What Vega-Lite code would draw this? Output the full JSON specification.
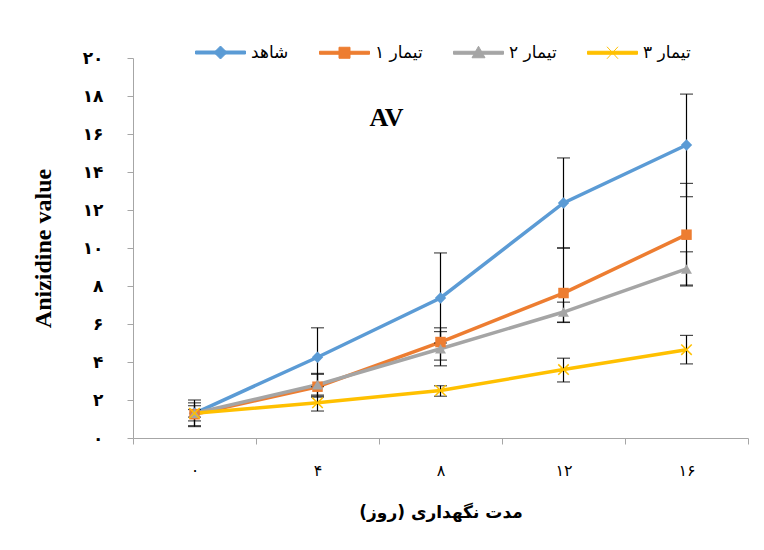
{
  "$schema": "https://vega.github.io/schema/vega-lite/v6.json",
  "width": 615,
  "height": 380,
  "autosize": "none",
  "padding": {"left": 133, "top": 58, "right": 16, "bottom": 112},
  "background": "white",
  "config": {
    "view": {"stroke": null},
    "axisY": {"labelOverlap": false},
    "locale": {
      "number": {
        "decimal": ".",
        "thousands": ",",
        "grouping": [3],
        "currency": ["", ""],
        "numerals": ["۰", "۱", "۲", "۳", "۴", "۵", "۶", "۷", "۸", "۹"]
      }
    }
  },
  "title": {
    "text": "AV",
    "font": "Liberation Serif",
    "fontSize": 26,
    "fontWeight": "bold",
    "color": "black",
    "anchor": "middle",
    "frame": "group",
    "baseline": "alphabetic",
    "offset": 0,
    "dx": -54,
    "dy": 125
  },
  "data": {
    "values": [
      {"series": "شاهد", "day": "۰", "v": 1.3, "lo": 0.6, "hi": 2.0},
      {"series": "شاهد", "day": "۴", "v": 4.25, "lo": 2.7, "hi": 5.8},
      {"series": "شاهد", "day": "۸", "v": 7.37, "lo": 5.0, "hi": 9.74},
      {"series": "شاهد", "day": "۱۲", "v": 12.37, "lo": 10.0, "hi": 14.74},
      {"series": "شاهد", "day": "۱۶", "v": 15.42, "lo": 12.7, "hi": 18.1},
      {"series": "تیمار ۱", "day": "۰", "v": 1.25, "lo": 0.65, "hi": 1.85},
      {"series": "تیمار ۱", "day": "۴", "v": 2.7, "lo": 2.15, "hi": 3.35},
      {"series": "تیمار ۱", "day": "۸", "v": 5.05, "lo": 4.1, "hi": 5.8},
      {"series": "تیمار ۱", "day": "۱۲", "v": 7.63, "lo": 6.1, "hi": 10.0},
      {"series": "تیمار ۱", "day": "۱۶", "v": 10.7, "lo": 8.0, "hi": 13.4},
      {"series": "تیمار ۲", "day": "۰", "v": 1.3, "lo": 0.9, "hi": 1.7},
      {"series": "تیمار ۲", "day": "۴", "v": 2.8, "lo": 2.2, "hi": 3.4},
      {"series": "تیمار ۲", "day": "۸", "v": 4.7, "lo": 3.8, "hi": 5.6},
      {"series": "تیمار ۲", "day": "۱۲", "v": 6.63, "lo": 6.08, "hi": 7.15},
      {"series": "تیمار ۲", "day": "۱۶", "v": 8.9, "lo": 8.05, "hi": 9.8},
      {"series": "تیمار ۳", "day": "۰", "v": 1.3, "lo": 1.1, "hi": 1.5},
      {"series": "تیمار ۳", "day": "۴", "v": 1.85, "lo": 1.42, "hi": 2.26},
      {"series": "تیمار ۳", "day": "۸", "v": 2.5, "lo": 2.2, "hi": 2.75},
      {"series": "تیمار ۳", "day": "۱۲", "v": 3.6, "lo": 2.95, "hi": 4.2},
      {"series": "تیمار ۳", "day": "۱۶", "v": 4.65, "lo": 3.9, "hi": 5.4}
    ]
  },
  "encoding": {
    "x": {
      "field": "day",
      "type": "ordinal",
      "sort": ["۰", "۴", "۸", "۱۲", "۱۶"],
      "scale": {"type": "band", "paddingInner": 0, "paddingOuter": 0},
      "axis": {
        "tickBand": "extent",
        "labelAngle": 0,
        "domainColor": "#A6A6A6",
        "tickColor": "#A6A6A6",
        "tickSize": 6,
        "labelPadding": 18,
        "labelFont": "DejaVu Sans",
        "labelFontSize": 16,
        "labelColor": "black",
        "title": "مدت نگهداری (روز)",
        "titleFont": "DejaVu Sans",
        "titleFontSize": 17,
        "titleFontWeight": "bold",
        "titleColor": "black",
        "titlePadding": 26
      }
    },
    "y": {
      "field": "v",
      "type": "quantitative",
      "scale": {"domain": [0, 20], "nice": false},
      "axis": {
        "values": [0, 2, 4, 6, 8, 10, 12, 14, 16, 18, 20],
        "tickCount": 11,
        "format": "d",
        "labelOverlap": false,
        "grid": false,
        "domainColor": "#A6A6A6",
        "tickColor": "#A6A6A6",
        "tickSize": 6,
        "labelPadding": 24,
        "labelFont": "DejaVu Sans",
        "labelFontSize": 17,
        "labelFontWeight": "bold",
        "labelColor": "black",
        "title": "Anizidine value",
        "titleFont": "Liberation Serif",
        "titleFontSize": 24,
        "titleFontWeight": "bold",
        "titleColor": "black",
        "titlePadding": 27
      }
    },
    "color": {
      "field": "series",
      "type": "nominal",
      "scale": {
        "domain": ["شاهد", "تیمار ۱", "تیمار ۲", "تیمار ۳"],
        "range": ["#5B9BD5", "#ED7D31", "#A5A5A5", "#FFC000"]
      },
      "legend": {
        "title": null,
        "orient": "none",
        "direction": "horizontal",
        "legendX": 62,
        "legendY": -31,
        "padding": 0,
        "symbolSize": 2500,
        "symbolStrokeWidth": 1,
        "labelFont": "DejaVu Sans",
        "labelFontSize": 17,
        "labelColor": "black",
        "labelOffset": 5,
        "columnPadding": 28,
        "encode": {
          "symbols": {
            "update": {
              "shape": {"signal": "datum.value === 'شاهد' ? 'M-1,-0.06H1V0.06H-1Z M0,-0.26L0.26,0L0,0.26L-0.26,0Z' : datum.value === 'تیمار ۱' ? 'M-1,-0.06H1V0.06H-1Z M-0.22,-0.22H0.22V0.22H-0.22Z' : datum.value === 'تیمار ۲' ? 'M-1,-0.06H1V0.06H-1Z M0,-0.26L0.26,0.2H-0.26Z' : 'M-1,-0.06H1V0.06H-1Z M-0.22,-0.24L0.22,0.24M0.22,-0.24L-0.22,0.24'"},
              "fill": {"scale": "color", "field": "value"},
              "stroke": {"scale": "color", "field": "value"},
              "strokeWidth": {"value": 1},
              "opacity": {"value": 1}
            }
          }
        }
      }
    }
  },
  "layer": [
    {
      "mark": {"type": "line", "strokeWidth": 3.5}
    },
    {
      "mark": {"type": "rule", "strokeWidth": 1.2, "color": "black"},
      "encoding": {
        "y": {"field": "lo", "type": "quantitative"},
        "y2": {"field": "hi"},
        "color": {"value": "black"}
      }
    },
    {
      "mark": {"type": "tick", "size": 13, "thickness": 1.2, "color": "black"},
      "encoding": {
        "y": {"field": "lo", "type": "quantitative"},
        "color": {"value": "black"}
      }
    },
    {
      "mark": {"type": "tick", "size": 13, "thickness": 1.2, "color": "black"},
      "encoding": {
        "y": {"field": "hi", "type": "quantitative"},
        "color": {"value": "black"}
      }
    },
    {
      "transform": [{"filter": "datum.series === 'شاهد'"}],
      "mark": {"type": "point", "filled": true, "opacity": 1, "shape": "diamond", "size": 130}
    },
    {
      "transform": [{"filter": "datum.series === 'تیمار ۱'"}],
      "mark": {"type": "point", "filled": true, "opacity": 1, "shape": "square", "size": 110}
    },
    {
      "transform": [{"filter": "datum.series === 'تیمار ۲'"}],
      "mark": {"type": "point", "filled": true, "opacity": 1, "shape": "triangle-up", "size": 120}
    },
    {
      "transform": [{"filter": "datum.series === 'تیمار ۳'"}],
      "mark": {"type": "point", "filled": false, "opacity": 1, "shape": "M-1,-1L1,1M1,-1L-1,1", "size": 110, "strokeWidth": 1.5}
    }
  ]
}
